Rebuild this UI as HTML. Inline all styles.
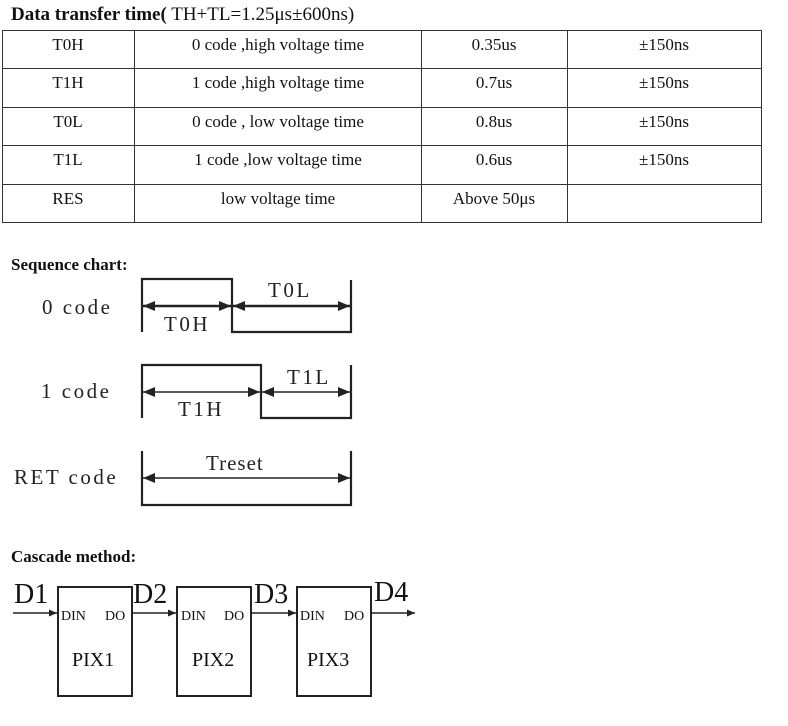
<!DOCTYPE html>
<html><head><style>
body{margin:0;background:#fff;width:788px;height:726px;overflow:hidden}
svg{display:block}
text{font-family:"Liberation Serif",serif;fill:#111}
.t{font-size:17px;text-anchor:middle}
.s{font-family:"Liberation Serif",serif;fill:#222}
</style></head><body>
<svg width="788" height="726" xmlns="http://www.w3.org/2000/svg">
<defs>
<marker id="a" markerWidth="12" markerHeight="10" refX="12" refY="5" orient="auto-start-reverse" markerUnits="userSpaceOnUse"><path d="M0,0 L12,5 L0,10 Z" fill="#222"/></marker>
<marker id="b" markerWidth="8" markerHeight="7" refX="8" refY="3.5" orient="auto" markerUnits="userSpaceOnUse"><path d="M0,0 L8,3.5 L0,7 Z" fill="#222"/></marker>
</defs>
<text x="11" y="20" style="font-size:19px;font-weight:bold">Data transfer time(<tspan font-weight="normal"> TH+TL=1.25μs±600ns)</tspan></text>
<g stroke="#333" stroke-width="1" fill="none">
<rect x="2.5" y="30.5" width="759" height="192"/>
<line x1="2" y1="68.5" x2="761" y2="68.5"/>
<line x1="2" y1="107.5" x2="761" y2="107.5"/>
<line x1="2" y1="145.5" x2="761" y2="145.5"/>
<line x1="2" y1="184.5" x2="761" y2="184.5"/>
<line x1="134.5" y1="30" x2="134.5" y2="222"/>
<line x1="421.5" y1="30" x2="421.5" y2="222"/>
<line x1="567.5" y1="30" x2="567.5" y2="222"/>
</g>
<g>
<text class="t" x="68" y="50">T0H</text><text class="t" x="278" y="50">0 code ,high voltage time</text><text class="t" x="494" y="50">0.35us</text><text class="t" x="664" y="50">±150ns</text>
<text class="t" x="68" y="88">T1H</text><text class="t" x="278" y="88">1 code ,high voltage time</text><text class="t" x="494" y="88">0.7us</text><text class="t" x="664" y="88">±150ns</text>
<text class="t" x="68" y="127">T0L</text><text class="t" x="278" y="127">0 code , low voltage time</text><text class="t" x="494" y="127">0.8us</text><text class="t" x="664" y="127">±150ns</text>
<text class="t" x="68" y="165">T1L</text><text class="t" x="278" y="165">1 code ,low voltage time</text><text class="t" x="494" y="165">0.6us</text><text class="t" x="664" y="165">±150ns</text>
<text class="t" x="68" y="204">RES</text><text class="t" x="278" y="204">low voltage time</text><text class="t" x="494" y="204">Above 50μs</text>
</g>
<text x="11" y="270" style="font-size:17px;font-weight:bold">Sequence chart:</text>
<g stroke="#222" stroke-width="2.2" fill="none">
<polyline points="142,332 142,279 232,279 232,332 351,332 351,280"/>
<line x1="143" y1="306" x2="231" y2="306" stroke-width="2.5" marker-start="url(#a)" marker-end="url(#a)"/>
<line x1="233" y1="306" x2="350" y2="306" stroke-width="2.5" marker-start="url(#a)" marker-end="url(#a)"/>
<polyline points="142,418 142,365 261,365 261,418 351,418 351,365"/>
<line x1="143" y1="392" x2="260" y2="392" stroke-width="1.5" marker-start="url(#a)" marker-end="url(#a)"/>
<line x1="262" y1="392" x2="350" y2="392" stroke-width="1.5" marker-start="url(#a)" marker-end="url(#a)"/>
<polyline points="142,451 142,505 351,505 351,451"/>
<line x1="143" y1="478" x2="350" y2="478" stroke-width="1.5" marker-start="url(#a)" marker-end="url(#a)"/>
</g>
<g style="font-size:21px;letter-spacing:2.5px">
<text class="s" x="42" y="314">0 code</text>
<text class="s" x="41" y="398">1 code</text>
<text class="s" x="14" y="484">RET code</text>
<text class="s" x="164" y="331">T0H</text>
<text class="s" x="268" y="297">T0L</text>
<text class="s" x="178" y="416">T1H</text>
<text class="s" x="287" y="384">T1L</text>
<text class="s" x="206" y="470" style="letter-spacing:1px">Treset</text>
</g>
<text x="11" y="562" style="font-size:17px;font-weight:bold">Cascade method:</text>
<g stroke="#222" stroke-width="2" fill="none">
<rect x="58" y="587" width="74" height="109"/>
<rect x="177" y="587" width="74" height="109"/>
<rect x="297" y="587" width="74" height="109"/>
<line x1="13" y1="613" x2="57" y2="613" stroke-width="1.5" marker-end="url(#b)"/>
<line x1="133" y1="613" x2="176" y2="613" stroke-width="1.5" marker-end="url(#b)"/>
<line x1="252" y1="613" x2="296" y2="613" stroke-width="1.5" marker-end="url(#b)"/>
<line x1="372" y1="613" x2="415" y2="613" stroke-width="1.5" marker-end="url(#b)"/>
</g>
<g style="font-size:28px">
<text x="14" y="603">D1</text><text x="133" y="603">D2</text><text x="254" y="603">D3</text><text x="374" y="601">D4</text>
</g>
<g style="font-size:14px">
<text x="61" y="620">DIN</text><text x="105" y="620">DO</text>
<text x="181" y="620">DIN</text><text x="224" y="620">DO</text>
<text x="300" y="620">DIN</text><text x="344" y="620">DO</text>
</g>
<g style="font-size:20px">
<text x="72" y="666">PIX1</text><text x="192" y="666">PIX2</text><text x="307" y="666">PIX3</text>
</g>
</svg>
</body></html>
